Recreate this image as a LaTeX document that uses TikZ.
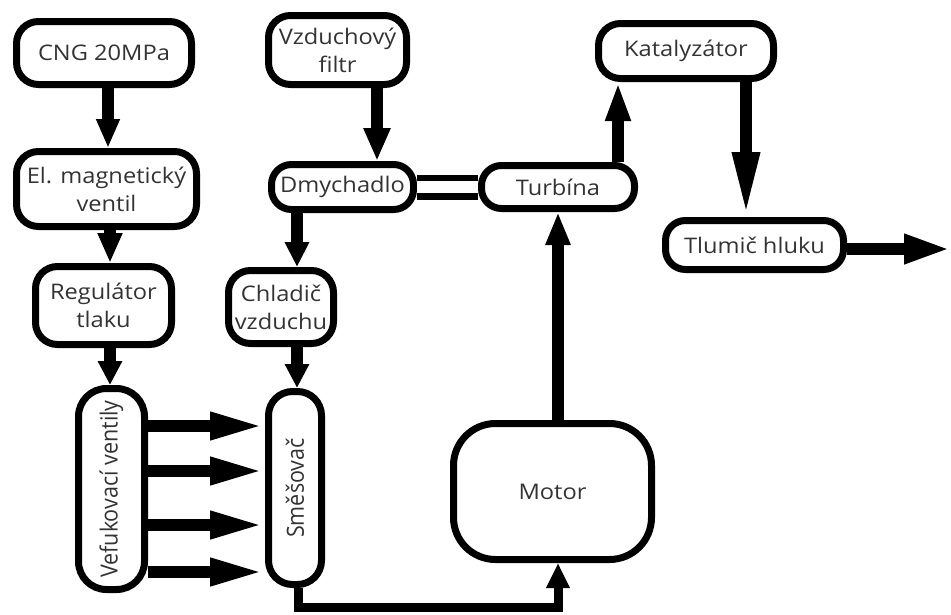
\documentclass[tikz,border=0pt]{standalone}
\usepackage{fontspec}
\usepackage{graphicx}
\setmainfont{Open Sans}[FakeStretch=1.1]
\newfontfamily\plainfont{Open Sans}
\usetikzlibrary{arrows.meta}
\begin{document}
\begin{tikzpicture}[x=1pt,y=-1pt,
  box/.style={draw, line width=7pt, rounded corners=22pt, align=center,
    font=\fontsize{21.5}{28}\selectfont, text=black!80, inner sep=0pt},
  arr/.style n args={2}{line width=12pt, -{Triangle[length=#1pt,width=#2pt]}}]
\useasboundingbox (0,0) rectangle (951,614);
% nodes
\node[box, minimum width=175pt, minimum height=63pt] (cng) at (104,53) {CNG 20MPa};
\node[box, minimum width=180pt, minimum height=75pt] (el) at (106.5,189) {El. magnetický\\ventil};
\node[box, minimum width=136pt, minimum height=78pt] (reg) at (103.5,305.5) {Regulátor\\tlaku};
\node[box, minimum width=66pt, minimum height=201pt, rounded corners=28pt] (vef) at (111.5,489) {\rotatebox{90}{\scalebox{1}[1.1]{\plainfont Vefukovací ventily}}};
\node[box, minimum width=53pt, minimum height=193pt, rounded corners=24pt] (sme) at (295,488) {\rotatebox{90}{\scalebox{1}[1.1]{\plainfont Směšovač}}};
\node[box, minimum width=105pt, minimum height=73pt] (chl) at (281,307) {Chladič\\vzduchu};
\node[box, minimum width=138pt, minimum height=69pt] (vzd) at (337.5,50) {Vzduchový\\filtr};
\node[box, minimum width=142pt, minimum height=45pt, rounded corners=20pt] (dmy) at (342.5,187) {Dmychadlo};
\node[box, minimum width=153pt, minimum height=43pt, rounded corners=20pt] (tur) at (558,187) {Turbína};
\node[box, minimum width=175pt, minimum height=55pt] (kat) at (686,51) {Katalyzátor};
\node[box, minimum width=178pt, minimum height=49pt, rounded corners=20pt] (tlu) at (754.5,245) {Tlumič hluku};
\node[box, minimum width=198pt, minimum height=136pt, rounded corners=42pt] (mot) at (552.5,491.5) {Motor};
\coordinate (exit) at (951,249);
% connectors
\draw[arr={29}{22}] ([xshift=4pt]cng.south) -- ([xshift=4pt]cng.south |- el.north);
\draw[arr={30}{23}] ([xshift=3.5pt]el.south) -- ([xshift=3.5pt]el.south |- reg.north);
\draw[arr={24}{23}] ([xshift=6.5pt]reg.south) -- ([xshift=6.5pt]reg.south |- vef.north);
\draw[arr={33}{25}] ([xshift=39.5pt]vzd.south) -- ([xshift=39.5pt]vzd.south |- dmy.north);
\draw[arr={25}{23}] ([xshift=-45.5pt]dmy.south) -- ([xshift=-45.5pt]dmy.south |- chl.north);
\draw[arr={24}{23}] ([xshift=2pt]sme.north |- chl.south) -- ([xshift=2pt]sme.north);
\draw[line width=6.5pt, double=white, double distance=12pt] (dmy.east) -- (tur.west);
\draw[arr={39}{23}] ([xshift=60pt]tur.north) -- ([xshift=60pt]tur.north |- kat.south);
\draw[arr={65}{25}] ([xshift=60pt]kat.south) -- ([xshift=60pt]kat.south |- tlu.north);
\draw[arr={47}{27}] (tlu.east |- exit) -- (exit);
\draw[arr={33}{23}] ([xshift=5.5pt]mot.north) -- ([xshift=5.5pt]mot.north |- tur.south);
\foreach \yy in {426,471,525,572}
  \draw[arr={55}{25}] (vef.east |- 0,\yy) -- (sme.west |- 0,\yy);
\draw[line width=9pt, -{Triangle[length=25pt,width=22pt]}]
  ([xshift=3pt]sme.south) |- ([xshift=5.5pt,yshift=-44pt]mot.south) -- ([xshift=5.5pt]mot.south);
\end{tikzpicture}
\end{document}
